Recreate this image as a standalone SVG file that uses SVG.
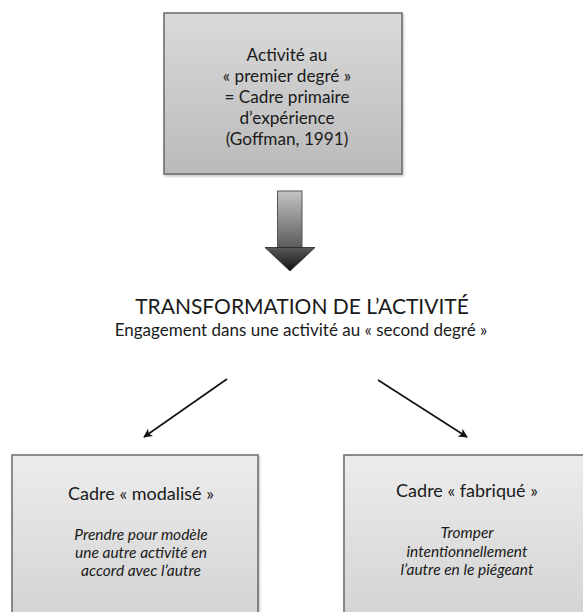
<svg xmlns="http://www.w3.org/2000/svg" width="583" height="612" viewBox="0 0 583 612">
<defs>
<linearGradient id="gTop" x1="0" y1="0" x2="0" y2="1">
<stop offset="0" stop-color="#dadada"/>
<stop offset="1" stop-color="#bababa"/>
</linearGradient>
<linearGradient id="gBot" x1="0" y1="0" x2="0" y2="1">
<stop offset="0" stop-color="#ececec"/>
<stop offset="1" stop-color="#d2d2d2"/>
</linearGradient>
<linearGradient id="gShaft" x1="0" y1="0" x2="0" y2="1">
<stop offset="0" stop-color="#c4c4c4"/>
<stop offset="1" stop-color="#5a5a5a"/>
</linearGradient>
<linearGradient id="gHead" x1="0" y1="0" x2="0" y2="1">
<stop offset="0" stop-color="#5a5a5a"/>
<stop offset="1" stop-color="#111111"/>
</linearGradient>
<filter id="sh" x="-5%" y="-5%" width="110%" height="110%">
<feDropShadow dx="1" dy="1.5" stdDeviation="1.2" flood-color="#000" flood-opacity="0.25"/>
</filter>
<marker id="ah" viewBox="0 0 10 10" refX="9" refY="5" markerWidth="9" markerHeight="9" markerUnits="userSpaceOnUse" orient="auto">
<path d="M0,0 L10,5 L0,10 L2.5,5 Z" fill="#111"/>
</marker>
</defs>
<style>
.box{stroke:#6a6a6a;stroke-width:1.5;filter:url(#sh)}
.t{font-family:Lato,"Open Sans","Liberation Sans",sans-serif;fill:#1a1a1a;text-anchor:middle}
.main{font-size:17.2px}
.hd{font-size:18px}
.it{font-size:15.5px;font-style:italic}
.conn{stroke:#111;stroke-width:1.6;fill:none;marker-end:url(#ah)}
</style>
<rect width="583" height="612" fill="#ffffff"/>

<g id="node-premier-degre">
<rect class="box" x="164" y="13" width="238" height="161" fill="url(#gTop)"/>
<text class="t main" x="287" y="61">Activité au</text>
<text class="t main" x="287" y="82">« premier degré »</text>
<text class="t main" x="287" y="103">= Cadre primaire</text>
<text class="t main" x="287" y="124">d’expérience</text>
<text class="t main" x="287" y="145">(Goffman, 1991)</text>
</g>

<g id="node-transformation">
<text class="t" x="302" y="314" font-size="21">TRANSFORMATION DE L’ACTIVITÉ</text>
<text class="t" x="301" y="336" font-size="17">Engagement dans une activité au « second degré »</text>
</g>

<g id="node-modalise">
<rect class="box" x="12" y="455" width="246" height="170" fill="url(#gBot)"/>
<text class="t hd" x="141" y="500">Cadre « modalisé »</text>
<text class="t it" x="141" y="540">Prendre pour modèle</text>
<text class="t it" x="141" y="558">une autre activité en</text>
<text class="t it" x="141" y="576">accord avec l’autre</text>
</g>

<g id="node-fabrique">
<rect class="box" x="344" y="455" width="246" height="170" fill="url(#gBot)"/>
<text class="t hd" x="467" y="497">Cadre « fabriqué »</text>
<text class="t it" x="467" y="538">Tromper</text>
<text class="t it" x="467" y="557">intentionnellement</text>
<text class="t it" x="467" y="575">l’autre en le piégeant</text>
</g>

<g id="connectors">
<rect x="277.5" y="191" width="24.5" height="57" fill="url(#gShaft)" stroke="#555" stroke-width="1"/>
<path d="M265,247.5 L315,247.5 L290,271 Z" fill="url(#gHead)" stroke="#222" stroke-width="0.8"/>
<line class="conn" x1="227" y1="379" x2="144" y2="437"/>
<line class="conn" x1="378" y1="380" x2="467" y2="437"/>
</g>
</svg>
